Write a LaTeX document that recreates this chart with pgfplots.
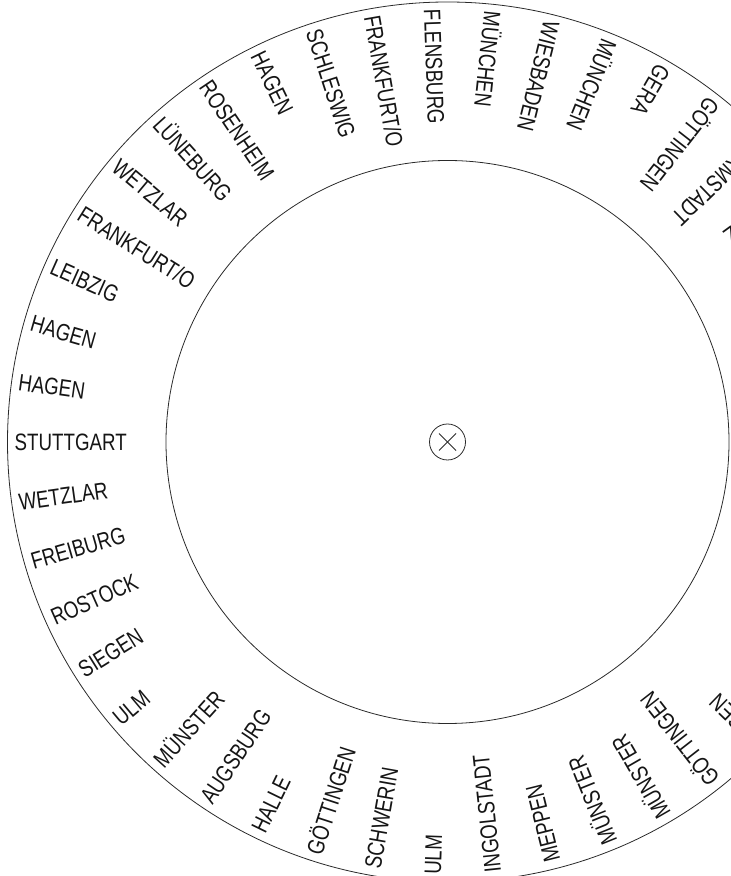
\documentclass[border=0pt]{standalone}
\usepackage{pgfplots}
\pgfplotsset{compat=1.18}
\usepackage{pgfplotstable}
\usepackage{fontspec}
\setmainfont{Liberation Sans}
\newfontfamily\labfont{Liberation Sans}[FakeStretch=0.79]
\definecolor{ink}{HTML}{151515}
\definecolor{linec}{HTML}{2A2A2A}

% angle (deg), radius of the label start, label
\pgfplotstableread{
angle radius label
92 433 FLENSBURG
100 433 FRANKFURT/O
108 433 SCHLESWIG
116 433 HAGEN
124 433 ROSENHEIM
132 433 LÜNEBURG
140 433 WETZLAR
148 433 FRANKFURT/O
156 433 LEIBZIG
164 433 HAGEN
172 433 HAGEN
180 433 STUTTGART
188 433 WETZLAR
196 433 FREIBURG
204 433 ROSTOCK
212 433 SIEGEN
220 433 ULM
228 433 MÜNSTER
236 433 AUGSBURG
244 433 HALLE
252 433 GÖTTINGEN
260 433 SCHWERIN
268 433 ULM
276 433 INGOLSTADT
284 433 MEPPEN
292 433 MÜNSTER
300 433 MÜNSTER
308 433 GÖTTINGEN
316 433 ESSEN
324 433 HALLE
332 433 KIEL
340 433 TRIER
348 433 JENA
356 433 HAGEN
4 433 ULM
12 433 GERA
20 433 HALLE
28 433 BONN
36 433 KOBLENZ
44 433 DARMSTADT
52 433 GÖTTINGEN
60 433 GERA
68 433 MÜNCHEN
76 433 WIESBADEN
84 433 MÜNCHEN
}\wheeltable

\begin{document}
\begin{tikzpicture}
\useasboundingbox (0,0) rectangle (731pt,876pt);
\clip (0,0) rectangle (731pt,876pt);
\begin{axis}[
  at={(0,0)}, anchor=south west,
  scale only axis, width=731pt, height=876pt,
  xmin=-447.5, xmax=283.5, ymin=-434, ymax=442,
  hide axis, clip=false,
]
\draw[linec, line width=0.8pt] (axis cs:0,0) circle[radius=440];
\draw[linec, line width=0.8pt] (axis cs:0,0) circle[radius=281.5];
\draw[linec, line width=0.8pt] (axis cs:0,0) circle[radius=18];
\draw[linec, line width=0.8pt] (axis cs:-8.5,-8.5) -- (axis cs:8.5,8.5);
\draw[linec, line width=0.8pt] (axis cs:-8.5,8.5) -- (axis cs:8.5,-8.5);
\addplot[draw=none, mark=none, data cs=polar,
  visualization depends on={\thisrow{angle}+180 \as \rot},
  nodes near coords, point meta=explicit symbolic,
  every node near coord/.append style={anchor=west, rotate=\rot,
    inner sep=0pt, text height=17pt, text depth=0pt,
    font=\labfont\fontsize{23.7}{24}\selectfont, text=ink},
] table[x=angle, y=radius, meta=label] {\wheeltable};
\end{axis}
\end{tikzpicture}
\end{document}
